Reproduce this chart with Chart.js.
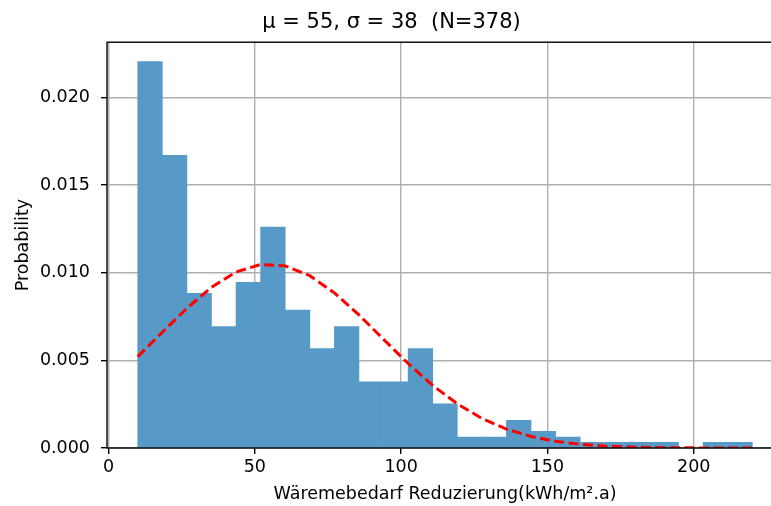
<!DOCTYPE html>
<html>
<head>
<meta charset="utf-8">
<script src="https://cdn.jsdelivr.net/npm/chart.js@4"></script>
<style>
  html, body { margin: 0; padding: 0; background: #fff; overflow: hidden; }
  #wrap { width: 800px; height: 506px; }
</style>
</head>
<body>
<div id="wrap"><canvas id="histChart"></canvas></div>
<script>
// bin edges of the histogram (kWh/m².a)
const binEdges = [10, 18.4, 26.8, 35.2, 43.6, 52, 60.4, 68.8, 77.2, 85.6, 94, 102.4, 110.8,
    119.2, 127.6, 136, 144.4, 152.8, 161.2, 169.6, 178, 186.4, 194.8, 203.2, 211.6, 220];

// density of each bin
const density = [0.02205, 0.01669, 0.00882, 0.00693, 0.00945, 0.01260, 0.00787, 0.00567,
    0.00693, 0.00378, 0.00378, 0.00567, 0.00252, 0.00063, 0.00063, 0.00158, 0.00095,
    0.00063, 0.00032, 0.00032, 0.00032, 0.00032, 0, 0.00032, 0.00032];

// fitted normal curve read at the bin edges
const fitCurve = [0.00521, 0.00660, 0.00797, 0.00917, 0.01004, 0.01047, 0.01039, 0.00983,
    0.00885, 0.00759, 0.00620, 0.00482, 0.00357, 0.00252, 0.00169, 0.00108, 0.00066,
    0.00038, 0.00021, 0.00011, 0.000056, 0.000027, 0.000012, 0.000005, 0.000002, 0.000001];

const xTicks = [0, 50, 100, 150, 200];
const yTicks = [0, 0.005, 0.010, 0.015, 0.020];

const titleText = 'μ = 55, σ = 38  (N=378)';
const xTitle = 'Wäremebedarf Reduzierung(kWh/m².a)';
const yTitle = 'Probability';

Chart.defaults.font.family = "'DejaVu Sans', sans-serif";
Chart.defaults.color = '#000';

const barPoints = density.map((d, i) => ({ x: (binEdges[i] + binEdges[i + 1]) / 2, y: d }));
const curvePoints = fitCurve.map((v, i) => ({ x: binEdges[i], y: v }));

// matplotlib style frame around the axes
const frame = {
    id: 'frame',
    afterDraw(chart) {
        const a = chart.chartArea;
        const c = chart.ctx;
        c.save();
        c.strokeStyle = '#000';
        c.lineWidth = 1.4;
        c.strokeRect(a.left, a.top, a.right - a.left, a.bottom - a.top);
        c.restore();
    }
};

const gridStyle = {
    color: '#b0b0b0',
    lineWidth: 1.4,
    offset: false,
    tickColor: '#000',
    tickLength: 6,
    tickWidth: 1.4
};

new Chart(document.getElementById('histChart'), {
    type: 'bar',
    data: {
        datasets: [{
            type: 'line',
            data: curvePoints,
            borderColor: 'rgb(255, 0, 0)',
            borderWidth: 3,
            borderDash: [10, 4.5],
            pointRadius: 0,
            tension: 0,
            fill: false,
            order: 0
        }, {
            type: 'bar',
            data: barPoints,
            backgroundColor: 'rgb(87, 154, 199)',
            borderWidth: 0,
            barPercentage: 1,
            categoryPercentage: 1,
            order: 1
        }]
    },
    options: {
        responsive: true,
        maintainAspectRatio: false,
        animation: false,
        layout: { padding: { left: 0, right: 17, top: 0, bottom: 0 } },
        scales: {
            x: {
                type: 'linear',
                min: -0.5,
                max: 230.5,
                offset: false,
                z: 1,
                grid: gridStyle,
                border: { display: false },
                afterBuildTicks: s => { s.ticks = xTicks.map(v => ({ value: v })); },
                afterFit: s => { s.height = 58; },
                ticks: { font: { size: 17.5 }, padding: 3, includeBounds: false },
                title: { display: true, text: xTitle, font: { size: 17.5 }, padding: { top: 0, bottom: 1 } }
            },
            y: {
                min: 0,
                max: 0.02315,
                z: 1,
                grid: gridStyle,
                border: { display: false },
                afterBuildTicks: s => { s.ticks = yTicks.map(v => ({ value: v })); },
                afterFit: s => { s.width = 107; },
                ticks: {
                    font: { size: 17.5 },
                    padding: 11,
                    callback: v => v.toFixed(3)
                },
                title: { display: true, text: yTitle, font: { size: 17.5 }, padding: { top: 13, bottom: 0 } }
            }
        },
        plugins: {
            legend: { display: false },
            tooltip: { enabled: false },
            title: {
                display: true,
                text: titleText,
                color: '#000',
                font: { size: 21, weight: 'normal' },
                padding: { top: 10, bottom: 7 }
            }
        }
    },
    plugins: [frame]
});
</script>
</body>
</html>
